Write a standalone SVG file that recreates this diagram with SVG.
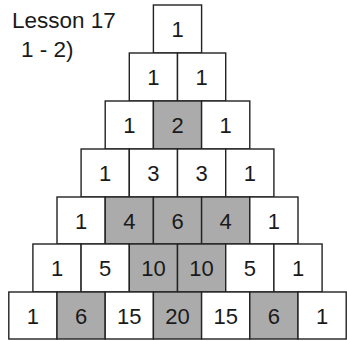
<svg xmlns="http://www.w3.org/2000/svg" width="347" height="341" viewBox="0 0 347 341">
<style>
.c{fill:#fff;stroke:#222;stroke-width:1.4}
.s{fill:#ababab;stroke:#222;stroke-width:1.4}
text{font-family:"Liberation Sans",Arial,sans-serif;fill:#1a1a1a}
.n{font-size:22px;text-anchor:middle}
.t{font-size:22.5px}
</style>
<rect width="347" height="341" fill="#fff"/>
<g id="title"><text class="t" x="12" y="28">Lesson 17</text><text class="t" x="21" y="57">1 - 2)</text></g>
<g id="row1">
<rect class="c" x="153.4" y="5" width="48.2" height="48"/><text class="n" x="177.5" y="37">1</text>
</g>
<g id="row2">
<rect class="c" x="129.3" y="53" width="48.2" height="48"/><text class="n" x="153.4" y="85">1</text>
<rect class="c" x="177.5" y="53" width="48.2" height="48"/><text class="n" x="201.6" y="85">1</text>
</g>
<g id="row3">
<rect class="c" x="105.2" y="101" width="48.2" height="48"/><text class="n" x="129.3" y="133">1</text>
<rect class="s" x="153.4" y="101" width="48.2" height="48"/><text class="n" x="177.5" y="133">2</text>
<rect class="c" x="201.6" y="101" width="48.2" height="48"/><text class="n" x="225.7" y="133">1</text>
</g>
<g id="row4">
<rect class="c" x="81.1" y="149" width="48.2" height="48"/><text class="n" x="105.2" y="181">1</text>
<rect class="c" x="129.3" y="149" width="48.2" height="48"/><text class="n" x="153.4" y="181">3</text>
<rect class="c" x="177.5" y="149" width="48.2" height="48"/><text class="n" x="201.6" y="181">3</text>
<rect class="c" x="225.7" y="149" width="48.2" height="48"/><text class="n" x="249.8" y="181">1</text>
</g>
<g id="row5">
<rect class="c" x="57" y="197" width="48.2" height="47"/><text class="n" x="81.1" y="228.5">1</text>
<rect class="s" x="105.2" y="197" width="48.2" height="47"/><text class="n" x="129.3" y="228.5">4</text>
<rect class="s" x="153.4" y="197" width="48.2" height="47"/><text class="n" x="177.5" y="228.5">6</text>
<rect class="s" x="201.6" y="197" width="48.2" height="47"/><text class="n" x="225.7" y="228.5">4</text>
<rect class="c" x="249.8" y="197" width="48.2" height="47"/><text class="n" x="273.9" y="228.5">1</text>
</g>
<g id="row6">
<rect class="c" x="32.9" y="244" width="48.2" height="48"/><text class="n" x="57" y="276">1</text>
<rect class="c" x="81.1" y="244" width="48.2" height="48"/><text class="n" x="105.2" y="276">5</text>
<rect class="s" x="129.3" y="244" width="48.2" height="48"/><text class="n" x="153.4" y="276">10</text>
<rect class="s" x="177.5" y="244" width="48.2" height="48"/><text class="n" x="201.6" y="276">10</text>
<rect class="c" x="225.7" y="244" width="48.2" height="48"/><text class="n" x="249.8" y="276">5</text>
<rect class="c" x="273.9" y="244" width="48.2" height="48"/><text class="n" x="298" y="276">1</text>
</g>
<g id="row7">
<rect class="c" x="8.8" y="292" width="48.2" height="47"/><text class="n" x="32.9" y="323.5">1</text>
<rect class="s" x="57" y="292" width="48.2" height="47"/><text class="n" x="81.1" y="323.5">6</text>
<rect class="c" x="105.2" y="292" width="48.2" height="47"/><text class="n" x="129.3" y="323.5">15</text>
<rect class="s" x="153.4" y="292" width="48.2" height="47"/><text class="n" x="177.5" y="323.5">20</text>
<rect class="c" x="201.6" y="292" width="48.2" height="47"/><text class="n" x="225.7" y="323.5">15</text>
<rect class="s" x="249.8" y="292" width="48.2" height="47"/><text class="n" x="273.9" y="323.5">6</text>
<rect class="c" x="298" y="292" width="48.2" height="47"/><text class="n" x="322.1" y="323.5">1</text>
</g>
<g id="connectors"/>
</svg>
